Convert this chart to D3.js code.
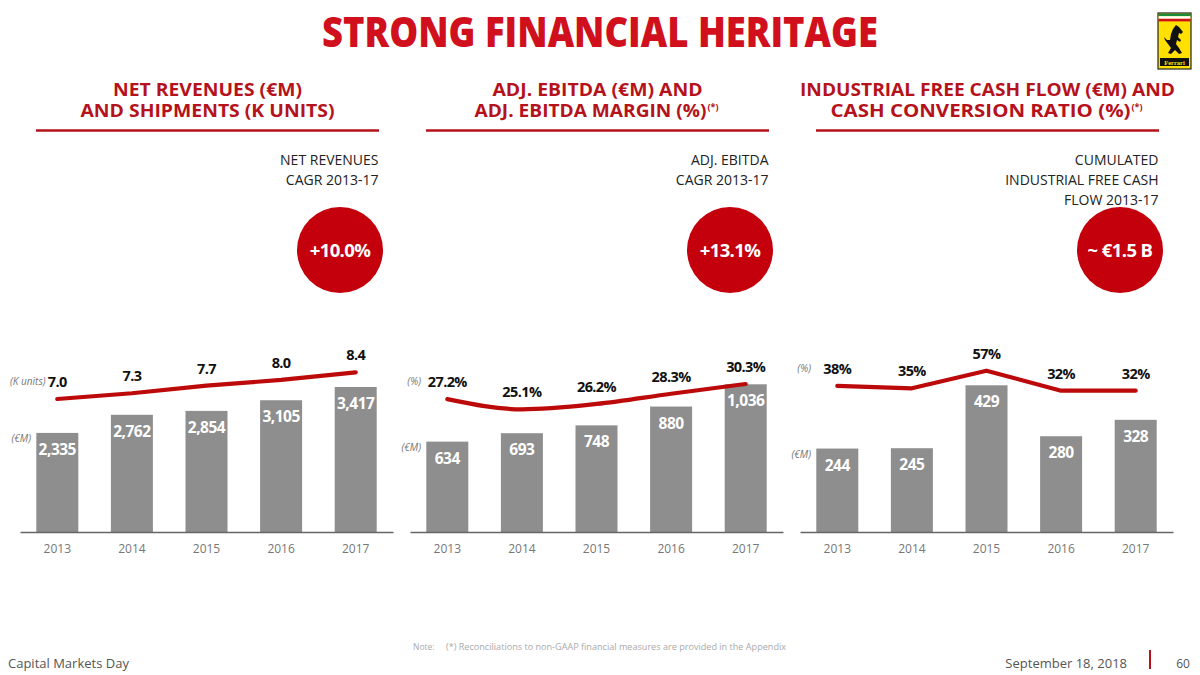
<!DOCTYPE html>
<html>
<head>
<meta charset="utf-8">
<script src="https://cdn.jsdelivr.net/npm/d3@7"></script>
<style>
  html, body { margin: 0; padding: 0; background: #fff; }
  svg { display: block; font-family: "Open Sans", "Noto Sans", sans-serif; }
</style>
</head>
<body>
<svg id="chart" width="1200" height="675"></svg>
<script>
// ---------- DATA ----------
const years = ["2013", "2014", "2015", "2016", "2017"];
const netRevenues = [2335, 2762, 2854, 3105, 3417];      // €M
const shipments = [7.0, 7.3, 7.7, 8.0, 8.4];              // K units
const adjEbitda = [634, 693, 748, 880, 1036];             // €M
const ebitdaMargin = [27.2, 25.1, 26.2, 28.3, 30.3];      // %
const industrialFcf = [244, 245, 429, 280, 328];          // €M
const cashConversion = [38, 35, 57, 32, 32];              // %
const panelTitles = [
  ["NET REVENUES (€M)", "AND SHIPMENTS (K UNITS)", ""],
  ["ADJ. EBITDA (€M) AND", "ADJ. EBITDA MARGIN (%)", "(*)"],
  ["INDUSTRIAL FREE CASH FLOW (€M) AND", "CASH CONVERSION RATIO (%)", "(*)"]
];
const kpiLabels = [
  ["NET REVENUES", "CAGR 2013-17"],
  ["ADJ. EBITDA", "CAGR 2013-17"],
  ["CUMULATED", "INDUSTRIAL FREE CASH", "FLOW 2013-17"]
];
const kpiValues = ["+10.0%", "+13.1%", "~ €1.5 B"];
const lineUnits = ["(K units)", "(%)", "(%)"];
const barUnit = "(€M)";

// ---------- STYLE / LAYOUT ----------
const RED = "#D0101C", DARKRED = "#B5121B", CIRCLE = "#C4000C", LINE = "#BC0A0A";
const BAR = "#8E8E8E";
const baseline = 532;

const panels = [
  { off: 0, bars: netRevenues, line: shipments, barFmt: d3.format(","), lineFmt: d3.format(".1f"),
    barH: 145, lineRange: [399, 372.3], curve: d3.curveLinear,
    title: panelTitles[0], titleW: [189, 254], kpi: kpiLabels[0], kpiVal: kpiValues[0],
    unit: lineUnits[0], unitX: 10, unitAnchor: "start" },
  { off: 390, bars: adjEbitda, line: ebitdaMargin, barFmt: d3.format(","), lineFmt: v => d3.format(".1f")(v) + "%",
    barH: 147.7, lineRange: [409.3, 384], curve: d3.curveMonotoneX,
    title: panelTitles[1], titleW: [210, 232], kpi: kpiLabels[1], kpiVal: kpiValues[1],
    unit: lineUnits[1], unitX: 421, unitAnchor: "end" },
  { off: 780, bars: industrialFcf, line: cashConversion, barFmt: d3.format(","), lineFmt: v => d3.format("d")(v) + "%",
    barH: 146.7, lineRange: [390.7, 370.7], curve: d3.curveLinear,
    title: panelTitles[2], titleW: [375, 300], kpi: kpiLabels[2], kpiVal: kpiValues[2],
    unit: lineUnits[2], unitX: 811, unitAnchor: "end" }
];

const svg = d3.select("#chart");

// ---------- TITLE ----------
svg.append("text")
  .attr("x", 600).attr("y", 47)
  .attr("text-anchor", "middle")
  .attr("font-size", 42).attr("font-weight", 800)
  .attr("fill", RED)
  .attr("textLength", 556).attr("lengthAdjust", "spacingAndGlyphs")
  .text("STRONG FINANCIAL HERITAGE");

// ---------- LOGO ----------
const logo = svg.append("g").attr("transform", "translate(1158,13)");
logo.append("rect").attr("x", 0).attr("y", 0).attr("width", 33).attr("height", 56)
  .attr("fill", "#FFE000").attr("stroke", "#222").attr("stroke-width", 1.2);
logo.append("rect").attr("x", 0.6).attr("y", 0.6).attr("width", 31.8).attr("height", 2.6).attr("fill", "#1E8A3C");
logo.append("rect").attr("x", 0.6).attr("y", 3.2).attr("width", 31.8).attr("height", 2.6).attr("fill", "#fff");
logo.append("rect").attr("x", 0.6).attr("y", 5.8).attr("width", 31.8).attr("height", 2.6).attr("fill", "#D0101C");
logo.append("path")
  .attr("d", "M18 12 L21 14 L25 19 L23 21 L21 20 L20 24 L23 27 L22 29 L19 27 L18 31 L21 35 L24 40 L21 41 L17 37 L13 41 L10 40 L13 35 L10 31 L7 27 L6 24 L9 27 L12 27 L13 21 L15 16 Z")
  .attr("fill", "#111");
logo.append("rect").attr("x", 2).attr("y", 45).attr("width", 29).attr("height", 8).attr("fill", "#111");
logo.append("text").attr("x", 16.5).attr("y", 51.5).attr("text-anchor", "middle")
  .attr("font-size", 6.5).attr("font-weight", 700).attr("fill", "#FFE000")
  .attr("font-family", "Liberation Serif, serif")
  .text("Ferrari");

// ---------- PANELS ----------
panels.forEach((p, i) => {
  const g = svg.append("g");
  const off = p.off;
  const center = off + 207.5;

  // header: two lines + superscript
  const supW = p.title[2] ? 14 : 0;
  g.append("text")
    .attr("x", center).attr("y", 96).attr("text-anchor", "middle")
    .attr("font-size", 18).attr("font-weight", 700).attr("fill", DARKRED)
    .attr("textLength", p.titleW[0]).attr("lengthAdjust", "spacingAndGlyphs")
    .text(p.title[0]);
  g.append("text")
    .attr("x", center - supW / 2).attr("y", 117).attr("text-anchor", "middle")
    .attr("font-size", 18).attr("font-weight", 700).attr("fill", DARKRED)
    .attr("textLength", p.titleW[1]).attr("lengthAdjust", "spacingAndGlyphs")
    .text(p.title[1]);
  if (p.title[2]) {
    g.append("text")
      .attr("x", center - supW / 2 + p.titleW[1] / 2 + 1).attr("y", 109.5)
      .attr("font-size", 9).attr("font-weight", 700).attr("fill", DARKRED)
      .text(p.title[2]);
  }
  g.append("line")
    .attr("x1", off + 36).attr("x2", off + 379)
    .attr("y1", 130.5).attr("y2", 130.5)
    .attr("stroke", DARKRED).attr("stroke-width", 2.5);

  // KPI labels
  p.kpi.forEach((t, k) => {
    g.append("text")
      .attr("x", off + 378.5).attr("y", 165 + k * 20)
      .attr("text-anchor", "end").attr("font-size", 14).attr("fill", "#222")
      .text(t);
  });
  // KPI circle
  g.append("circle").attr("cx", off + 340).attr("cy", 250).attr("r", 43).attr("fill", CIRCLE);
  g.append("text")
    .attr("x", off + 340).attr("y", 257)
    .attr("text-anchor", "middle").attr("font-size", 18.5).attr("font-weight", 700)
    .attr("letter-spacing", -0.6).attr("fill", "#fff")
    .text(p.kpiVal);

  // scales
  const x = d3.scaleBand().domain(years).range([off + 20, off + 393])
    .paddingInner(0.437).paddingOuter(0.2185);
  const yBar = d3.scaleLinear().domain([0, d3.max(p.bars)]).range([baseline, baseline - p.barH]);
  const yLine = d3.scaleLinear().domain(d3.extent(p.line)).range(p.lineRange);

  // bars
  const rows = years.map((yr, k) => ({ yr, bar: p.bars[k], line: p.line[k] }));
  g.selectAll("rect.bar").data(rows).join("rect")
    .attr("class", "bar")
    .attr("x", d => x(d.yr)).attr("width", x.bandwidth())
    .attr("y", d => yBar(d.bar)).attr("height", d => baseline - yBar(d.bar))
    .attr("fill", BAR);
  g.selectAll("text.barlbl").data(rows).join("text")
    .attr("class", "barlbl")
    .attr("x", d => x(d.yr) + x.bandwidth() / 2).attr("y", d => yBar(d.bar) + 22)
    .attr("text-anchor", "middle").attr("font-size", 15.5).attr("font-weight", 700)
    .attr("letter-spacing", -0.5).attr("fill", "#fff")
    .text(d => p.barFmt(d.bar));

  // axis
  const axis = g.append("g").attr("transform", `translate(0,${baseline})`)
    .call(d3.axisBottom(x).tickSize(0).tickPadding(12));
  axis.select(".domain").attr("stroke", "#666").attr("stroke-width", 1.6);
  axis.selectAll("text").attr("font-size", 12).attr("fill", "#777")
    .attr("font-family", "Open Sans, sans-serif");

  // line
  const lineGen = d3.line().x(d => x(d.yr) + x.bandwidth() / 2).y(d => yLine(d.line)).curve(p.curve);
  g.append("path").datum(rows)
    .attr("d", lineGen)
    .attr("fill", "none").attr("stroke", LINE).attr("stroke-width", 4.2)
    .attr("stroke-linecap", "round").attr("stroke-linejoin", "round");
  g.selectAll("text.linelbl").data(rows).join("text")
    .attr("class", "linelbl")
    .attr("x", d => x(d.yr) + x.bandwidth() / 2).attr("y", d => yLine(d.line) - 12)
    .attr("text-anchor", "middle").attr("font-size", 14.5).attr("font-weight", 700)
    .attr("letter-spacing", -0.6).attr("fill", "#111")
    .text(d => p.lineFmt(d.line));

  // unit labels
  g.append("text")
    .attr("x", p.unitX).attr("y", yLine(p.line[0]) - 14)
    .attr("text-anchor", p.unitAnchor).attr("font-size", 10).attr("font-style", "italic")
    .attr("fill", "#777")
    .text(p.unit);
  g.append("text")
    .attr("x", off + 31).attr("y", yBar(p.bars[0]) + 9)
    .attr("text-anchor", "end").attr("font-size", 10).attr("font-style", "italic")
    .attr("fill", "#777")
    .text(barUnit);
});

// ---------- FOOTER ----------
svg.append("text").attr("x", 413).attr("y", 650)
  .attr("font-size", 8.5).attr("fill", "#aaa").text("Note:");
svg.append("text").attr("x", 446).attr("y", 650)
  .attr("font-size", 8.5).attr("fill", "#aaa")
  .attr("textLength", 340).attr("lengthAdjust", "spacingAndGlyphs")
  .text("(*) Reconciliations to non-GAAP financial measures are provided in the Appendix");
svg.append("text").attr("x", 8).attr("y", 668)
  .attr("font-size", 13).attr("fill", "#555").text("Capital Markets Day");
svg.append("text").attr("x", 1127).attr("y", 668)
  .attr("text-anchor", "end").attr("font-size", 13).attr("fill", "#555").text("September 18, 2018");
svg.append("line").attr("x1", 1150).attr("x2", 1150).attr("y1", 650).attr("y2", 669)
  .attr("stroke", "#B5121B").attr("stroke-width", 2);
svg.append("text").attr("x", 1183).attr("y", 668)
  .attr("text-anchor", "middle").attr("font-size", 12).attr("fill", "#555").text("60");
</script>
</body>
</html>
